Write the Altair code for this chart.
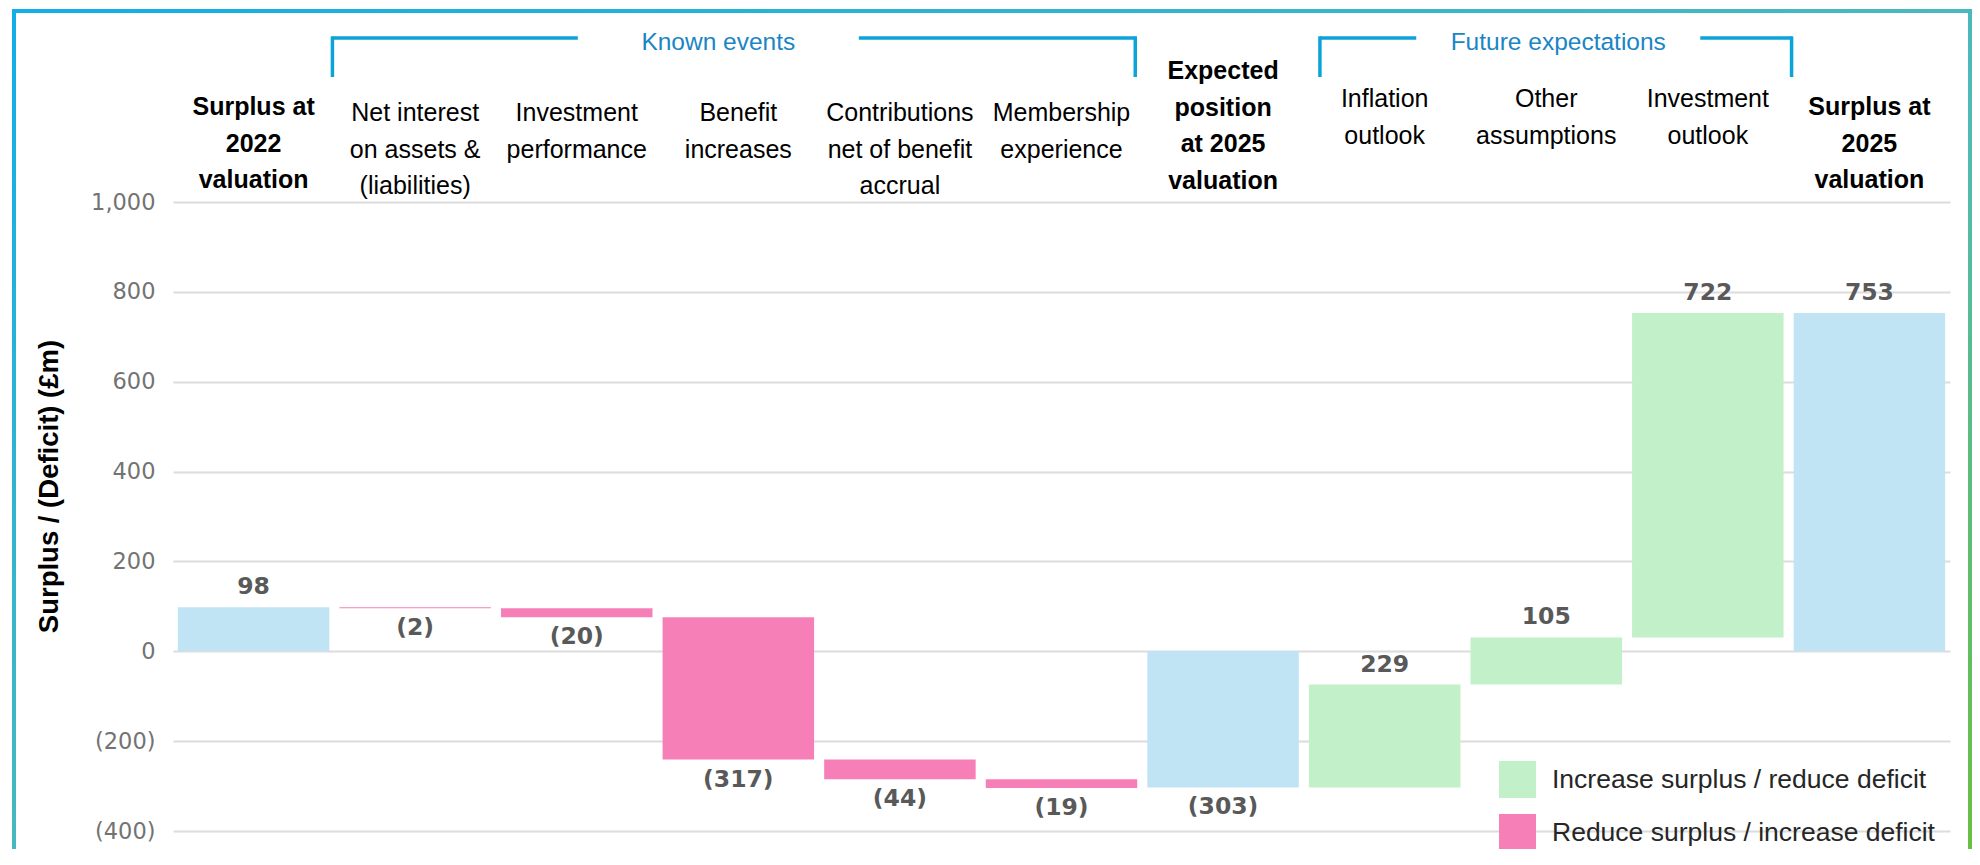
import altair as alt
import pandas as pd

# ---------------- data ----------------
categories = [
    "Surplus at\n2022\nvaluation",
    "Net interest\non assets &\n(liabilities)",
    "Investment\nperformance",
    "Benefit\nincreases",
    "Contributions\nnet of benefit\naccrual",
    "Membership\nexperience",
    "Expected\nposition\nat 2025\nvaluation",
    "Inflation\noutlook",
    "Other\nassumptions",
    "Investment\noutlook",
    "Surplus at\n2025\nvaluation",
]
values = [98, -2, -20, -317, -44, -19, -303, 229, 105, 722, 753]
is_total = [True, False, False, False, False, False, True, False, False, False, True]
header_group = ["total", "known", "known", "known", "known", "known",
                "total", "future", "future", "future", "total"]
value_labels = ["98", "(2)", "(20)", "(317)", "(44)", "(19)", "(303)",
                "229", "105", "722", "753"]

effect_names = ["Total",
                "Increase surplus / reduce deficit",
                "Reduce surplus / increase deficit"]
effect_colors = ["#c1e4f5", "#c2f0c8", "#f77fb7"]

groups = ["Known events", "Future expectations"]
group_first = [categories[1], categories[7]]
group_mid = [categories[3], categories[8]]
group_last = [categories[5], categories[9]]

y_ticks = [-400, -200, 0, 200, 400, 600, 800, 1000]
y_title = "Surplus / (Deficit) (£m)"

# ---------------- tables ----------------
rows = []
running = 0
for cat, v, tot, hg, lab in zip(categories, values, is_total, header_group, value_labels):
    if tot:
        start, end = 0, v
        running = v
        effect = effect_names[0]
    else:
        start, end = running, running + v
        running = end
        effect = effect_names[1] if v > 0 else effect_names[2]
    up = v > 0
    rows.append(dict(category=cat, start=start, end=end, effect=effect,
                     hgroup=hg, label=lab, up=up,
                     nlines=cat.count("\n") + 1,
                     label_y=max(start, end) if up else min(start, end)))
df = pd.DataFrame(rows)
gdf = pd.DataFrame({"group": groups, "first": group_first, "mid": group_mid, "last": group_last})

# ---------------- scales ----------------
x_scale = alt.Scale(domain=categories, paddingInner=0.0625, paddingOuter=0.03)
y_scale = alt.Scale(domain=[-440, 1000], nice=False, zero=False)

HEAD_FONT = "Liberation Sans"
BLUE_LINE = "#0ca4d8"
BLUE_TEXT = "#1a85c5"


def y_axis():
    return alt.Axis(
        values=y_ticks,
        labelExpr="datum.value < 0 ? '(' + format(-datum.value, ',') + ')' : format(datum.value, ',')",
        labelFont="DejaVu Sans", labelFontSize=22.5, labelColor="#737373",
        labelPadding=18, ticks=False, tickSize=0, domain=False,
        grid=True, gridColor="#dcdcdc", gridWidth=2,
        title=y_title, titleFont=HEAD_FONT, titleFontSize=27.5, titleFontWeight="bold",
        titleColor="#000000", titleX=-124, titleY=284, titleAngle=270,
        titleAlign="center", titleBaseline="middle",
    )


bars = alt.Chart(df).mark_bar().encode(
    x=alt.X("category:N", sort=None, scale=x_scale, axis=None),
    y=alt.Y("start:Q", scale=y_scale, axis=y_axis(), title=y_title),
    y2="end:Q",
    color=alt.Color(
        "effect:N",
        scale=alt.Scale(domain=effect_names, range=effect_colors),
        legend=alt.Legend(
            values=effect_names[1:], orient="none", direction="vertical",
            legendX=1326, legendY=559, title=None, symbolType="square",
            symbolSize=1369, symbolStrokeWidth=0, labelFont=HEAD_FONT,
            labelFontSize=26.5, labelColor="#262626", labelOffset=16,
            rowPadding=16, labelLimit=600, padding=0,
        ),
    ),
)


def value_label_layer(flt, dy):
    return alt.Chart(df).transform_filter(flt).mark_text(
        dy=dy, baseline="middle", font="DejaVu Sans", fontWeight="bold",
        fontSize=23.5, color="#595959",
    ).encode(
        x=alt.X("category:N", sort=None, scale=x_scale, axis=None),
        y=alt.Y("label_y:Q", scale=y_scale, axis=y_axis(), title=y_title),
        text="label:N",
    )


labels_up = value_label_layer("datum.up", -20)
labels_down = value_label_layer("!datum.up", 20)


def header_layer(flt, y, weight):
    return alt.Chart(df).transform_filter(flt).mark_text(
        font=HEAD_FONT, fontSize=25, fontWeight=weight, lineBreak="\n",
        lineHeight=36.5, baseline="top", align="center", color="#000000",
    ).encode(
        x=alt.X("category:N", sort=None, scale=x_scale, axis=None),
        y=alt.value(y),
        text="category:N",
    )


head_total3 = header_layer("datum.hgroup == 'total' && datum.nlines == 3", -107, "bold")
head_total4 = header_layer("datum.hgroup == 'total' && datum.nlines == 4", -143, "bold")
head_known = header_layer("datum.hgroup == 'known'", -101, "normal")
head_future = header_layer("datum.hgroup == 'future'", -115, "normal")

# group brackets: (text dx, gap width, left tick offset, right tick offset)
group_style = {"Known events": (-20, 281, -7, -2),
               "Future expectations": (12, 284, 11, 8)}
group_layers = []
for g in groups:
    dx, w, lo, ro = group_style[g]
    base = alt.Chart(gdf).transform_filter(alt.datum.group == g)
    top = base.mark_rule(color=BLUE_LINE, strokeWidth=3.5, xOffset=lo, x2Offset=ro).encode(
        x=alt.X("first:N", sort=None, scale=x_scale, axis=None, bandPosition=0),
        x2=alt.X2("last:N", bandPosition=1),
        y=alt.value(-164),
    )
    left = base.mark_rule(color=BLUE_LINE, strokeWidth=3.5, xOffset=lo).encode(
        x=alt.X("first:N", sort=None, scale=x_scale, axis=None, bandPosition=0),
        y=alt.value(-165.7), y2=alt.value(-125),
    )
    right = base.mark_rule(color=BLUE_LINE, strokeWidth=3.5, xOffset=ro).encode(
        x=alt.X("last:N", sort=None, scale=x_scale, axis=None, bandPosition=1),
        y=alt.value(-165.7), y2=alt.value(-125),
    )
    mask = base.mark_bar(color="white", width=w, xOffset=dx).encode(
        x=alt.X("mid:N", sort=None, scale=x_scale, axis=None),
        y=alt.value(-176), y2=alt.value(-151),
    )
    txt = base.mark_text(
        dx=dx, baseline="middle", align="center", font=HEAD_FONT,
        fontSize=24.5, color=BLUE_TEXT,
    ).encode(
        x=alt.X("mid:N", sort=None, scale=x_scale, axis=None),
        y=alt.value(-159),
        text="group:N",
    )
    group_layers += [top, left, right, mask, txt]

frame = alt.Chart(pd.DataFrame({"f": [1]})).mark_rect(
    filled=False, strokeWidth=4,
    stroke=alt.LinearGradient(
        gradient="linear", x1=0, y1=0, x2=1, y2=1,
        stops=[alt.GradientStop(color="#12aee8", offset=0),
               alt.GradientStop(color="#4fbab8", offset=0.55),
               alt.GradientStop(color="#6cbf3c", offset=1)],
    ),
).encode(
    x=alt.value(-159), x2=alt.value(1797), y=alt.value(-191), y2=alt.value(690),
)

chart = alt.layer(
    bars, labels_up, labels_down, head_total3, head_total4, head_known, head_future,
    *group_layers, frame,
).properties(
    width=1777, height=647,
    padding={"left": 165, "top": 194, "right": 22, "bottom": 0},
    autosize=alt.AutoSizeParams(type="none"),
    background="white",
).configure_view(stroke=None)

chart.save("out.html", embed_options={"renderer": "svg", "actions": False})
